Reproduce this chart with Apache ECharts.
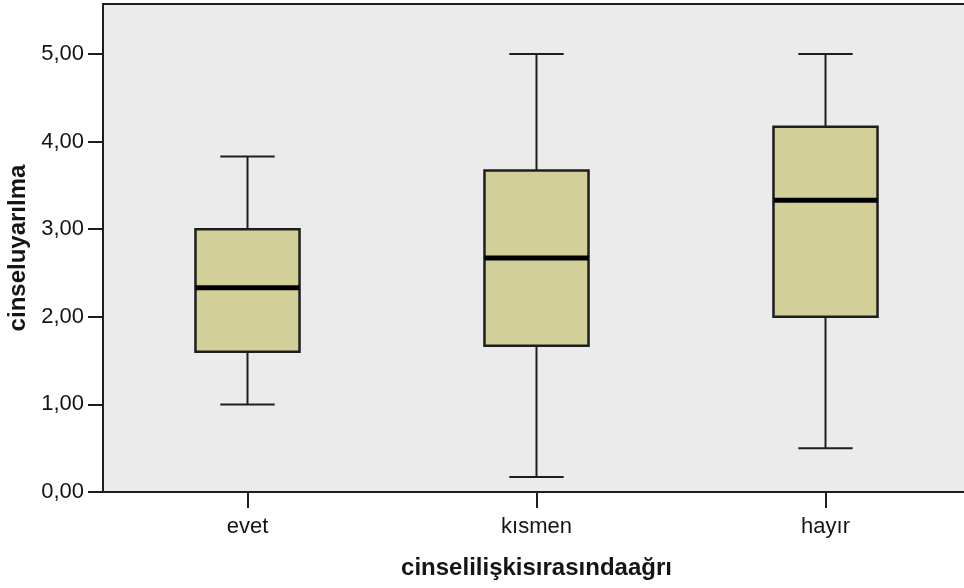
<!DOCTYPE html>
<html>
<head>
<meta charset="utf-8">
<script src="https://cdn.jsdelivr.net/npm/echarts@6/dist/echarts.min.js"></script>
<style>
  html, body { margin: 0; padding: 0; background: #ffffff; }
  #chart { width: 964px; height: 588px; }
</style>
</head>
<body>
<div id="chart"></div>
<script>
// Box plot summaries per category
var categories = ['evet', 'kısmen', 'hayır'];
var whiskerLow  = [1.00, 0.17, 0.50];
var q1          = [1.60, 1.67, 2.00];
var median      = [2.33, 2.67, 3.33];
var q3          = [3.00, 3.67, 4.17];
var whiskerHigh = [3.83, 5.00, 5.00];
var yTicks = [0, 1, 2, 3, 4, 5];

var xTitle = 'cinselilişkisırasındaağrı';
var yTitle = 'cinseluyarılma';

var rows = categories.map(function (c, i) {
  return [i, whiskerLow[i], q1[i], median[i], q3[i], whiskerHigh[i]];
});

var FONT = '"Liberation Sans", Arial, sans-serif';
var INK = '#1e1e1e';
var TEXT = '#141414';

function renderBox(params, api) {
  var idx = api.value(0);
  var band = api.size([1, 0])[0];
  var boxHalf = band * 0.18;
  var capHalf = band * 0.094;
  var pLow = api.coord([idx, api.value(1)]);
  var pQ1 = api.coord([idx, api.value(2)]);
  var pMed = api.coord([idx, api.value(3)]);
  var pQ3 = api.coord([idx, api.value(4)]);
  var pHigh = api.coord([idx, api.value(5)]);
  var cx = pQ1[0];
  var lineStyle = { stroke: INK, lineWidth: 2 };
  return {
    type: 'group',
    children: [
      { type: 'line', shape: { x1: cx, y1: pHigh[1], x2: cx, y2: pQ3[1] }, style: lineStyle },
      { type: 'line', shape: { x1: cx, y1: pQ1[1], x2: cx, y2: pLow[1] }, style: lineStyle },
      { type: 'line', shape: { x1: cx - capHalf, y1: pHigh[1], x2: cx + capHalf, y2: pHigh[1] }, style: lineStyle },
      { type: 'line', shape: { x1: cx - capHalf, y1: pLow[1], x2: cx + capHalf, y2: pLow[1] }, style: lineStyle },
      { type: 'rect', shape: { x: cx - boxHalf, y: pQ3[1], width: boxHalf * 2, height: pQ1[1] - pQ3[1] },
        style: { fill: '#d3cf98', stroke: INK, lineWidth: 2.5 } },
      { type: 'line', shape: { x1: cx - boxHalf, y1: pMed[1], x2: cx + boxHalf, y2: pMed[1] },
        style: { stroke: '#000000', lineWidth: 5 } }
    ]
  };
}

var chart = echarts.init(document.getElementById('chart'), null, { renderer: 'canvas' });
chart.setOption({
  animation: false,
  backgroundColor: '#ffffff',
  grid: {
    show: true,
    left: 103, top: 4, width: 867, height: 488,
    outerBoundsMode: 'none',
    containLabel: false,
    backgroundColor: '#ebebeb',
    borderColor: INK,
    borderWidth: 2
  },
  xAxis: {
    type: 'category',
    data: categories,
    name: xTitle,
    nameLocation: 'middle',
    nameGap: 64,
    nameTextStyle: { fontFamily: FONT, fontSize: 24, fontWeight: 'bold', color: TEXT },
    axisLine: { show: true, lineStyle: { color: INK, width: 2 } },
    axisTick: { show: true, alignWithLabel: true, interval: 0, length: 16, lineStyle: { color: INK, width: 2 } },
    axisLabel: { fontFamily: FONT, fontSize: 22, color: TEXT, margin: 24 },
    splitLine: { show: false }
  },
  yAxis: {
    type: 'value',
    min: 0,
    max: 5.57,
    interval: 1,
    name: yTitle,
    nameLocation: 'middle',
    nameGap: 73,
    nameTextStyle: { fontFamily: FONT, fontSize: 24, fontWeight: 'bold', color: TEXT },
    axisLine: { show: true, lineStyle: { color: INK, width: 2 } },
    axisTick: { show: true, length: 15, lineStyle: { color: INK, width: 2 } },
    axisLabel: {
      fontFamily: FONT, fontSize: 22, color: TEXT, margin: 19,
      showMaxLabel: false,
      formatter: function (v) {
        return yTicks.indexOf(v) >= 0 ? v.toFixed(2).replace('.', ',') : '';
      }
    },
    splitLine: { show: false }
  },
  series: [{
    type: 'custom',
    renderItem: renderBox,
    encode: { x: 0, y: [1, 2, 3, 4, 5] },
    data: rows,
    clip: false
  }]
});
</script>
</body>
</html>
